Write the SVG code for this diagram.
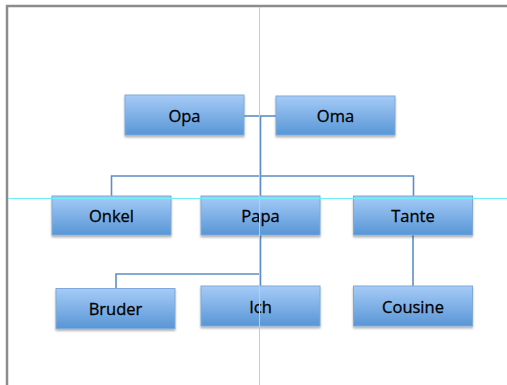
<svg xmlns="http://www.w3.org/2000/svg" width="507" height="385" viewBox="0 0 507 385">
<defs>
<linearGradient id="g" x1="0" y1="0" x2="0" y2="1">
<stop offset="0" stop-color="#a6cbf7"/>
<stop offset="1" stop-color="#5896d6"/>
</linearGradient>
<filter id="sh" x="-10%" y="-10%" width="120%" height="130%">
<feGaussianBlur in="SourceAlpha" stdDeviation="1"/>
<feOffset dx="0" dy="1.5"/>
<feComponentTransfer><feFuncA type="linear" slope="0.3"/></feComponentTransfer>
<feMerge><feMergeNode/><feMergeNode in="SourceGraphic"/></feMerge>
</filter>
</defs>
<style>
.box{fill:url(#g);stroke:#7ea9da;stroke-width:1;filter:url(#sh)}
.lbl{font-family:"Open Sans","Liberation Sans",sans-serif;font-size:16.5px;fill:#000;stroke:#000;stroke-width:0.3;text-anchor:middle}
.con{fill:none;stroke:#5e8fc4;stroke-width:1.6}
.guide{stroke:#6ff0f8;stroke-width:1}
</style>
<rect width="507" height="385" fill="#ffffff"/>
<path d="M7 385 V6 H507" fill="none" stroke="#8c8c8c" stroke-width="2.5"/>
<g id="connectors">
<path class="con" d="M244 116 H276"/>
<path class="con" d="M260.5 116 V196"/>
<path class="con" d="M111.5 196 V176 H413.5 V196"/>
<path class="con" d="M260.5 235 V286"/>
<path class="con" d="M116 288 V274 H260.5"/>
<path class="con" d="M413 235 V286"/>
</g>
<g id="Opa"><rect class="box" x="125" y="95" width="119" height="40"/><text class="lbl" x="184.5" y="121.5">Opa</text></g>
<g id="Oma"><rect class="box" x="276" y="96" width="119" height="39"/><text class="lbl" x="335.5" y="122">Oma</text></g>
<g id="Onkel"><rect class="box" x="52" y="196" width="119" height="39"/><text class="lbl" x="111.5" y="222">Onkel</text></g>
<g id="Papa"><rect class="box" x="201" y="196" width="119" height="39"/><text class="lbl" x="260.5" y="222">Papa</text></g>
<g id="Tante"><rect class="box" x="353.5" y="196" width="119" height="39"/><text class="lbl" x="413" y="222">Tante</text></g>
<g id="Bruder"><rect class="box" x="56" y="288.5" width="119" height="40"/><text class="lbl" x="115.5" y="315">Bruder</text></g>
<g id="Ich"><rect class="box" x="201" y="286" width="119" height="40"/><text class="lbl" x="260.5" y="312.5">Ich</text></g>
<g id="Cousine"><rect class="box" x="353.5" y="286" width="119" height="40"/><text class="lbl" x="413" y="312.5">Cousine</text></g>
<line class="guide" x1="259.5" y1="7" x2="259.5" y2="385"/>
<line class="guide" x1="8" y1="198.5" x2="507" y2="198.5"/>
</svg>
